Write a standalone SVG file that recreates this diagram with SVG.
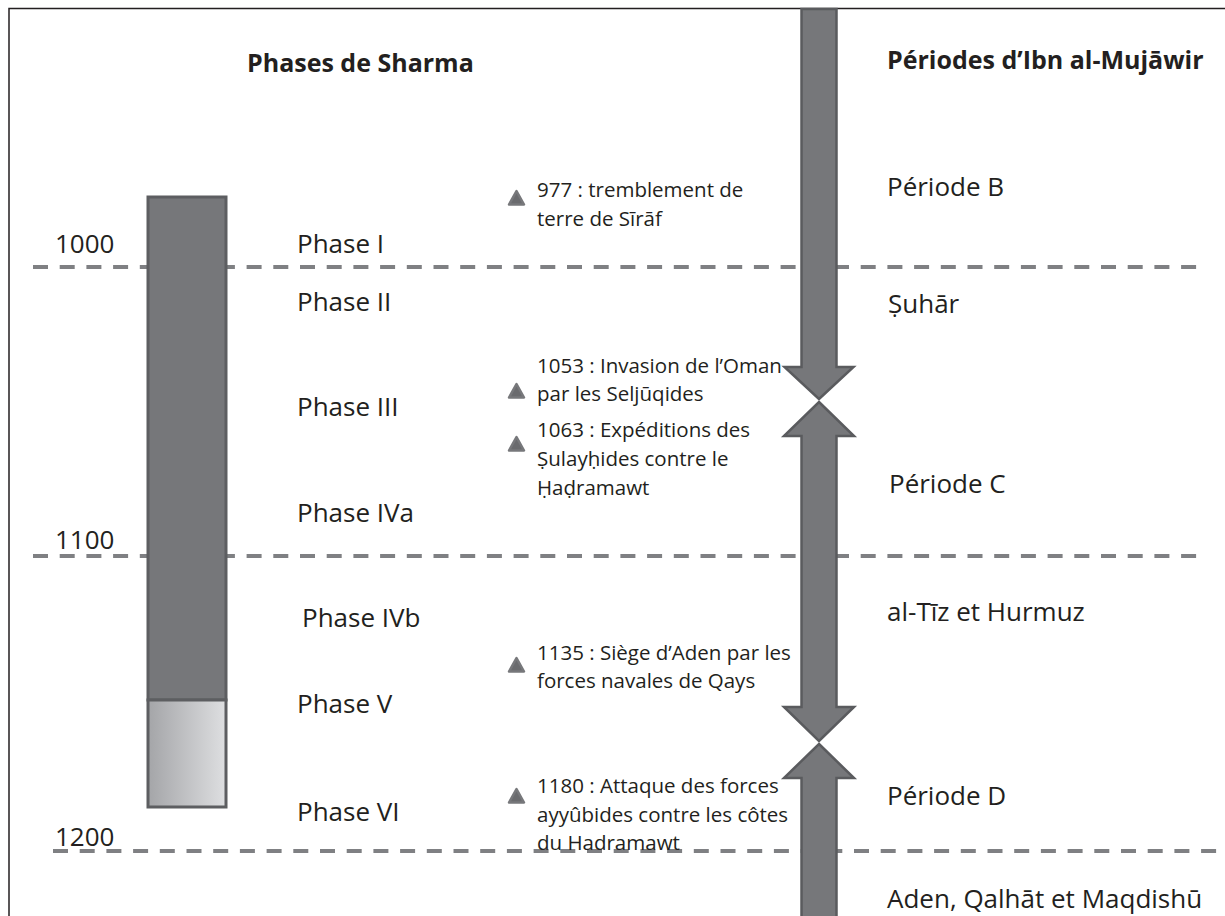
<svg xmlns="http://www.w3.org/2000/svg" width="1225" height="916" viewBox="0 0 1225 916">
<defs>
<linearGradient id="lightGrad" x1="0" y1="0" x2="1" y2="0">
<stop offset="0" stop-color="#a4a5a8"/>
<stop offset="1" stop-color="#dedfe1"/>
</linearGradient>
<style>
text{font-family:"Open Sans","Noto Sans","DejaVu Sans",sans-serif;fill:#231f20;}
.title{font-size:25px;font-weight:bold;}
.lbl{font-size:26px;}
.ev{font-size:20.5px;}
.dash{stroke:#7f8083;stroke-width:4;stroke-dasharray:15 11.7;fill:none;}
.tri{fill:#6a6b6e;stroke:#77787b;stroke-width:2.5;stroke-linejoin:round;}
.arrow{fill:#76777a;stroke:#5a5b5e;stroke-width:2.5;stroke-linejoin:miter;}
.border{stroke:#231f20;stroke-width:1.5;fill:none;}
</style>
</defs>
<rect x="0" y="0" width="1225" height="916" fill="#ffffff"/>
<path class="border" d="M9,916 L9,8.5 L1225,8.5"/>

<g id="gridlines">
<line class="dash" x1="33" y1="267" x2="1200" y2="267"/>
<line class="dash" x1="33" y1="556" x2="1200" y2="556"/>
<line class="dash" x1="53" y1="851" x2="1225" y2="851"/>
</g>

<g id="years">
<text class="lbl" x="55" y="253">1000</text>
<text class="lbl" x="55" y="549">1100</text>
<text class="lbl" x="55" y="846">1200</text>
</g>

<g id="titles">
<text class="title" x="247" y="72">Phases de Sharma</text>
<text class="title" x="887" y="69">Périodes d’Ibn al-Mujāwir</text>
</g>

<g id="sharma-bar">
<rect x="148" y="197" width="78" height="503" fill="#76777a" stroke="#5d5e61" stroke-width="3"/>
<rect x="148" y="700" width="78" height="107" fill="url(#lightGrad)" stroke="#5d5e61" stroke-width="3"/>
</g>

<g id="phases">
<text class="lbl" x="297" y="253">Phase I</text>
<text class="lbl" x="297" y="311">Phase II</text>
<text class="lbl" x="297" y="416">Phase III</text>
<text class="lbl" x="297" y="522">Phase IVa</text>
<text class="lbl" x="302" y="627">Phase IVb</text>
<text class="lbl" x="297" y="713">Phase V</text>
<text class="lbl" x="297" y="821">Phase VI</text>
</g>

<g id="event-977">
<polygon class="tri" points="516.5,191 524,204.5 509,204.5"/>
<text class="ev" x="537" y="197">977 : tremblement de</text>
<text class="ev" x="537" y="226">terre de Sīrāf</text>
</g>
<g id="event-1053">
<polygon class="tri" points="516.5,384 524,397.5 509,397.5"/>
<text class="ev" x="537" y="373">1053 : Invasion de l’Oman</text>
<text class="ev" x="537" y="401">par les Seljūqides</text>
</g>
<g id="event-1063">
<polygon class="tri" points="516.5,437 524,450.5 509,450.5"/>
<text class="ev" x="537" y="437">1063 : Expéditions des</text>
<text class="ev" x="537" y="466">Ṣulayḥides contre le</text>
<text class="ev" x="537" y="495">Ḥaḍramawt</text>
</g>
<g id="event-1135">
<polygon class="tri" points="516.5,658 524,671.5 509,671.5"/>
<text class="ev" x="537" y="660">1135 : Siège d’Aden par les</text>
<text class="ev" x="537" y="688">forces navales de Qays</text>
</g>
<g id="event-1180">
<polygon class="tri" points="516.5,789 524,802.5 509,802.5"/>
<text class="ev" x="537" y="793">1180 : Attaque des forces</text>
<text class="ev" x="537" y="822">ayyûbides contre les côtes</text>
<text class="ev" x="537" y="850">du Hadramawt</text>
</g>

<g id="periods">
<text class="lbl" x="887" y="196">Période B</text>
<text class="lbl" x="888" y="313">Ṣuhār</text>
<text class="lbl" x="889" y="493">Période C</text>
<text class="lbl" x="887" y="621">al-Tīz et Hurmuz</text>
<text class="lbl" x="887" y="805">Période D</text>
<text class="lbl" x="887" y="908">Aden, Qalhāt et Maqdishū</text>
</g>

<g id="connectors">
<path class="arrow" d="M801.5,9 L836.5,9 L836.5,367 L853.5,367 L819,399 L784.5,367 L801.5,367 Z"/>
<path class="arrow" d="M819,402 L854,436 L836.5,436 L836.5,707 L854,707 L819,741 L784,707 L801.5,707 L801.5,436 L784,436 Z"/>
<path class="arrow" d="M819,744 L854,778 L836.5,778 L836.5,925 L801.5,925 L801.5,778 L784,778 Z"/>
</g>
</svg>
